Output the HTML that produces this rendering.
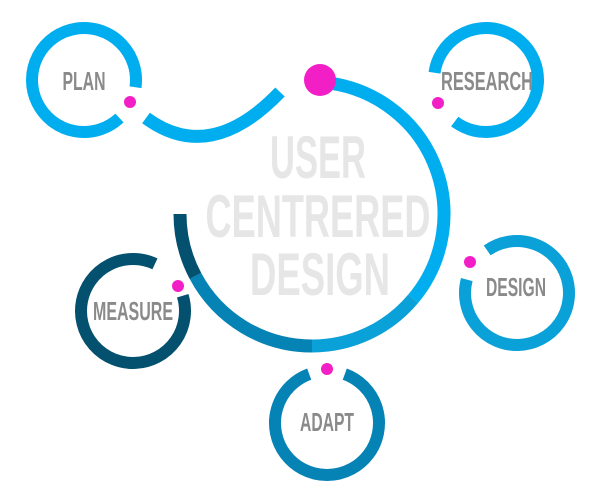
<!DOCTYPE html>
<html><head><meta charset="utf-8"><style>
html,body{margin:0;padding:0;background:#fff;width:600px;height:500px;overflow:hidden}
svg{display:block}
text{font-family:"Liberation Sans",sans-serif;text-anchor:middle}
</style></head><body>
<svg id="s" width="600" height="500" viewBox="0 0 600 500" xmlns="http://www.w3.org/2000/svg">
<g id="arcs"></g>
<path d="M146,118 Q210,165 280,92" fill="none" stroke="#00aeef" stroke-width="13"/>
<g font-weight="bold" fill="#e6e6e6" font-size="60">
<text x="318" y="178" textLength="96" lengthAdjust="spacingAndGlyphs">USER</text>
<text x="318" y="237" textLength="225" lengthAdjust="spacingAndGlyphs">CENTRERED</text>
<text x="320" y="295" textLength="140" lengthAdjust="spacingAndGlyphs">DESIGN</text>
</g>
<g font-size="26" fill="#8a8a8a" font-weight="bold">
<text x="84" y="90" textLength="43" lengthAdjust="spacingAndGlyphs">PLAN</text>
<text x="487" y="90" textLength="92" lengthAdjust="spacingAndGlyphs">RESEARCH</text>
<text x="516" y="296" textLength="60" lengthAdjust="spacingAndGlyphs">DESIGN</text>
<text x="133" y="320" textLength="80" lengthAdjust="spacingAndGlyphs">MEASURE</text>
<text x="327" y="431" textLength="54" lengthAdjust="spacingAndGlyphs">ADAPT</text>
</g>
<g fill="#f21fc7">
<circle cx="320" cy="80" r="16"/>
<circle cx="130" cy="102" r="6"/>
<circle cx="438" cy="103" r="6"/>
<circle cx="470" cy="262" r="6"/>
<circle cx="178" cy="286" r="6"/>
<circle cx="327" cy="369" r="6"/>
</g>
</svg>
<script>
var g=document.getElementById('arcs');
function arc(cx,cy,r,a0,a1,col,w){
 var p=Math.PI/180,x0=cx+r*Math.cos(a0*p),y0=cy+r*Math.sin(a0*p),x1=cx+r*Math.cos(a1*p),y1=cy+r*Math.sin(a1*p);
 var large=(a1-a0)>180?1:0;
 var e=document.createElementNS('http://www.w3.org/2000/svg','path');
 e.setAttribute('d','M'+x0+','+y0+' A'+r+','+r+' 0 '+large+' 1 '+x1+','+y1);
 e.setAttribute('fill','none');e.setAttribute('stroke',col);e.setAttribute('stroke-width',w);
 g.appendChild(e);
}
arc(84,80,52,47,368,'#00aeef',12);
arc(486,80,52,188,487,'#00aeef',12);
arc(517,293,52,235,555,'#0aa0d8',12);
arc(327,423,52,290,610,'#0683b5',12);
arc(133,311,52,343,655,'#03506f',12);
arc(312,214,132,274,400,'#00aeef',13);
arc(312,214,132,400,450,'#0aa0d8',13);
arc(312,214,132,450,512,'#0683b5',13);
arc(312,214,132,512,540,'#03506f',13);
</script>
</body></html>
